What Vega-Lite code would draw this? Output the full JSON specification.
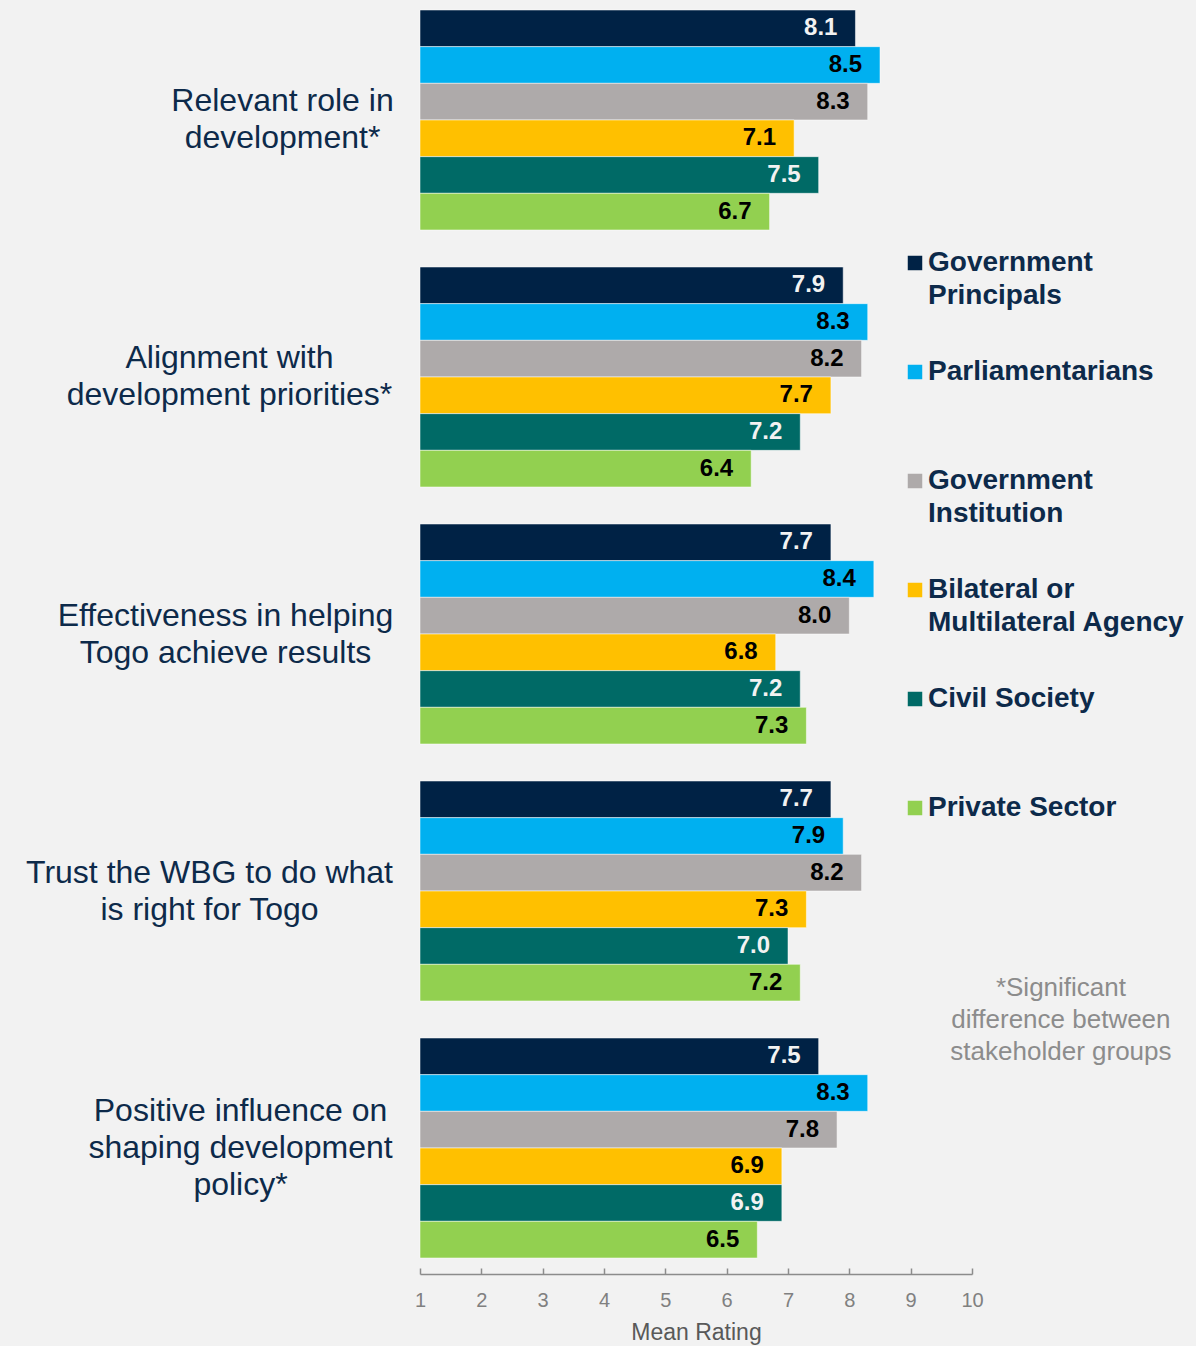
{
  "$schema": "https://vega.github.io/schema/vega-lite/v6.json",
  "width": 552,
  "height": 1248,
  "autosize": {"type": "none"},
  "padding": {"left": 420, "top": 10, "right": 224, "bottom": 88},
  "background": "#f2f2f2",
  "config": {"view": {"stroke": null}, "font": "Liberation Sans"},
  "data": {
    "values": [
      {"question": "Relevant role in development*", "group": "Government Principals", "rating": 8.1},
      {"question": "Relevant role in development*", "group": "Parliamentarians", "rating": 8.5},
      {"question": "Relevant role in development*", "group": "Government Institution", "rating": 8.3},
      {"question": "Relevant role in development*", "group": "Bilateral or Multilateral Agency", "rating": 7.1},
      {"question": "Relevant role in development*", "group": "Civil Society", "rating": 7.5},
      {"question": "Relevant role in development*", "group": "Private Sector", "rating": 6.7},
      {"question": "Alignment with development priorities*", "group": "Government Principals", "rating": 7.9},
      {"question": "Alignment with development priorities*", "group": "Parliamentarians", "rating": 8.3},
      {"question": "Alignment with development priorities*", "group": "Government Institution", "rating": 8.2},
      {"question": "Alignment with development priorities*", "group": "Bilateral or Multilateral Agency", "rating": 7.7},
      {"question": "Alignment with development priorities*", "group": "Civil Society", "rating": 7.2},
      {"question": "Alignment with development priorities*", "group": "Private Sector", "rating": 6.4},
      {"question": "Effectiveness in helping Togo achieve results", "group": "Government Principals", "rating": 7.7},
      {"question": "Effectiveness in helping Togo achieve results", "group": "Parliamentarians", "rating": 8.4},
      {"question": "Effectiveness in helping Togo achieve results", "group": "Government Institution", "rating": 8.0},
      {"question": "Effectiveness in helping Togo achieve results", "group": "Bilateral or Multilateral Agency", "rating": 6.8},
      {"question": "Effectiveness in helping Togo achieve results", "group": "Civil Society", "rating": 7.2},
      {"question": "Effectiveness in helping Togo achieve results", "group": "Private Sector", "rating": 7.3},
      {"question": "Trust the WBG to do what is right for Togo", "group": "Government Principals", "rating": 7.7},
      {"question": "Trust the WBG to do what is right for Togo", "group": "Parliamentarians", "rating": 7.9},
      {"question": "Trust the WBG to do what is right for Togo", "group": "Government Institution", "rating": 8.2},
      {"question": "Trust the WBG to do what is right for Togo", "group": "Bilateral or Multilateral Agency", "rating": 7.3},
      {"question": "Trust the WBG to do what is right for Togo", "group": "Civil Society", "rating": 7.0},
      {"question": "Trust the WBG to do what is right for Togo", "group": "Private Sector", "rating": 7.2},
      {"question": "Positive influence on shaping development policy*", "group": "Government Principals", "rating": 7.5},
      {"question": "Positive influence on shaping development policy*", "group": "Parliamentarians", "rating": 8.3},
      {"question": "Positive influence on shaping development policy*", "group": "Government Institution", "rating": 7.8},
      {"question": "Positive influence on shaping development policy*", "group": "Bilateral or Multilateral Agency", "rating": 6.9},
      {"question": "Positive influence on shaping development policy*", "group": "Civil Society", "rating": 6.9},
      {"question": "Positive influence on shaping development policy*", "group": "Private Sector", "rating": 6.5}
    ]
  },
  "layer": [
    {
      "mark": {"type": "bar", "stroke": "#ffffff", "strokeOpacity": 0.5, "strokeWidth": 1},
      "encoding": {
        "y": {
          "field": "question",
          "type": "nominal",
          "sort": null,
          "scale": {"paddingInner": 0.144, "paddingOuter": 0},
          "axis": {
            "title": null,
            "domain": false,
            "ticks": false,
            "labelFont": "Liberation Sans",
            "labelFontSize": 32,
            "labelColor": "#0d2a4a",
            "labelLineHeight": 37,
            "labelAlign": "center",
            "labelLimit": 0,
            "labelPadding": {
              "condition": [
                {"test": "datum.value == 'Relevant role in development*'", "value": 138},
                {"test": "datum.value == 'Alignment with development priorities*'", "value": 191},
                {"test": "datum.value == 'Effectiveness in helping Togo achieve results'", "value": 195},
                {"test": "datum.value == 'Trust the WBG to do what is right for Togo'", "value": 211}
              ],
              "value": 180
            },
            "labelOffset": {
              "condition": {"test": "datum.value == 'Positive influence on shaping development policy*'", "value": -37},
              "value": -18.5
            },
            "labelExpr": "datum.value == 'Relevant role in development*' ? ['Relevant role in', 'development*'] : datum.value == 'Alignment with development priorities*' ? ['Alignment with', 'development priorities*'] : datum.value == 'Effectiveness in helping Togo achieve results' ? ['Effectiveness in helping', 'Togo achieve results'] : datum.value == 'Trust the WBG to do what is right for Togo' ? ['Trust the WBG to do what', 'is right for Togo'] : ['Positive influence on', 'shaping development', 'policy*']"
          }
        },
        "yOffset": {
          "field": "group",
          "type": "nominal",
          "sort": ["Government Principals", "Parliamentarians", "Government Institution", "Bilateral or Multilateral Agency", "Civil Society", "Private Sector"],
          "scale": {"paddingInner": 0, "paddingOuter": 0}
        },
        "x": {
          "field": "rating",
          "type": "quantitative",
          "stack": null,
          "scale": {"domain": [1, 10], "zero": false, "nice": false},
          "axis": {
            "title": "Mean Rating",
            "values": [1, 2, 3, 4, 5, 6, 7, 8, 9, 10],
            "format": "d",
            "grid": false,
            "offset": 16,
            "domainColor": "#8c8c8c",
            "domainWidth": 1.5,
            "tickColor": "#8c8c8c",
            "tickWidth": 1.5,
            "tickSize": -6,
            "labelFont": "Liberation Sans",
            "labelFontSize": 20,
            "labelColor": "#808080",
            "labelPadding": 22,
            "labelFlush": false,
            "titleFont": "Liberation Sans",
            "titleFontSize": 23,
            "titleFontWeight": "normal",
            "titleColor": "#595959",
            "titlePadding": 11
          }
        },
        "x2": {"datum": 1},
        "color": {
          "field": "group",
          "type": "nominal",
          "scale": {
            "domain": ["Government Principals", "Parliamentarians", "Government Institution", "Bilateral or Multilateral Agency", "Civil Society", "Private Sector"],
            "range": ["#002245", "#00b0f0", "#aeaaaa", "#ffc000", "#006a66", "#92d050"]
          },
          "legend": {
            "orient": "none",
            "legendX": 481,
            "legendY": 239,
            "title": null,
            "padding": 0,
            "direction": "vertical",
            "gridAlign": "all",
            "symbolType": "square",
            "symbolSize": 210,
            "symbolStrokeWidth": 0,
            "labelFont": "Liberation Sans",
            "labelFontSize": 28,
            "labelFontWeight": "bold",
            "labelColor": "#0d2a4a",
            "labelOffset": -1,
            "labelLimit": 400,
            "rowPadding": 48,
            "labelExpr": "datum.label == 'Government Principals' ? ['Government', 'Principals'] : datum.label == 'Government Institution' ? ['Government', 'Institution'] : datum.label == 'Bilateral or Multilateral Agency' ? ['Bilateral or', 'Multilateral Agency'] : datum.label",
            "encoding": {"labels": {"lineHeight": {"value": 33}}}
          }
        }
      }
    },
    {
      "mark": {"type": "text", "align": "right", "baseline": "middle", "dx": -18, "fontSize": 24, "fontWeight": "bold", "font": "Liberation Sans"},
      "encoding": {
        "y": {"field": "question", "type": "nominal", "sort": null},
        "yOffset": {
          "field": "group",
          "type": "nominal",
          "sort": ["Government Principals", "Parliamentarians", "Government Institution", "Bilateral or Multilateral Agency", "Civil Society", "Private Sector"]
        },
        "x": {"field": "rating", "type": "quantitative"},
        "text": {"field": "rating", "type": "quantitative", "format": ".1f"},
        "color": {
          "condition": {"test": "datum.group == 'Government Principals' || datum.group == 'Civil Society'", "value": "#f2f2f2"},
          "value": "#000000"
        }
      }
    },
    {
      "data": {"values": [{"note": "footnote"}]},
      "mark": {
        "type": "text",
        "text": ["*Significant", "difference between", "stakeholder groups"],
        "align": "center",
        "baseline": "middle",
        "lineHeight": 32,
        "fontSize": 26,
        "font": "Liberation Sans",
        "color": "#8c8c8c",
        "dy": 97
      },
      "encoding": {
        "x": {"datum": 11.45},
        "y": {"datum": "Trust the WBG to do what is right for Togo"}
      }
    }
  ]
}
